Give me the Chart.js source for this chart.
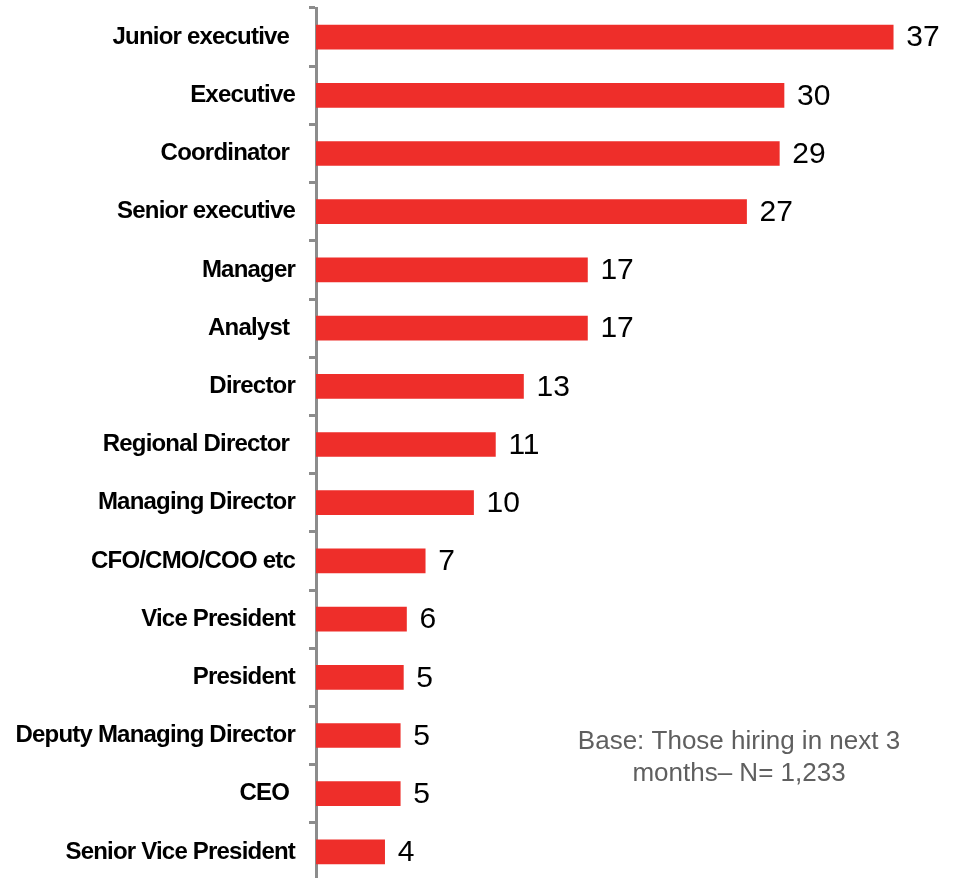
<!DOCTYPE html>
<html>
<head>
<meta charset="utf-8">
<script src="https://cdn.jsdelivr.net/npm/chart.js@4/dist/chart.umd.min.js"></script>
<style>
  html, body { margin: 0; padding: 0; background: #fff; overflow: hidden; }
  #wrap { width: 959px; height: 882px; }
</style>
</head>
<body>
<div id="wrap"><canvas id="hiringChart" width="959" height="882"></canvas></div>
<script>
// roles being hired (trailing spaces are in the original labels)
const roles = ['Junior executive ', 'Executive', 'Coordinator ', 'Senior executive', 'Manager', 'Analyst ',
  'Director', 'Regional Director ', 'Managing Director', 'CFO/CMO/COO etc', 'Vice President',
  'President', 'Deputy Managing Director', 'CEO ', 'Senior Vice President'];

// bar lengths (unrounded)
const barValues = [37, 30, 29.7, 27.6, 17.4, 17.4, 13.3, 11.5, 10.1, 7.0, 5.8, 5.6, 5.4, 5.4, 4.4];

// numbers printed at the end of the bars
const shares = [37, 30, 29, 27, 17, 17, 13, 11, 10, 7, 6, 5, 5, 5, 4];

// footnote lines
const baseNote = ['Base: Those hiring in next 3', 'months\u2013 N= 1,233'];

const barRed = '#EE2E2A';
const axisGrey = '#8c8c8c';

// condensed look of the category labels
const tightText = {
  id: 'tightText',
  beforeDraw(chart) {
    chart.ctx.letterSpacing = '-0.8px';
  }
};

// numbers at the end of each bar
const valueLabels = {
  id: 'valueLabels',
  afterDatasetsDraw(chart) {
    const ctx = chart.ctx;
    const meta = chart.getDatasetMeta(0);
    ctx.save();
    ctx.letterSpacing = '0px';
    ctx.font = '30px "Liberation Sans", Arial, sans-serif';
    ctx.fillStyle = '#000';
    ctx.textAlign = 'left';
    ctx.textBaseline = 'middle';
    meta.data.forEach((bar, i) => {
      ctx.fillText(shares[i], bar.x + 13, bar.y + 1);
    });
    ctx.restore();
  }
};

// base note, bottom right
const notePlugin = {
  id: 'notePlugin',
  afterDraw(chart) {
    const ctx = chart.ctx;
    ctx.save();
    ctx.letterSpacing = '0px';
    ctx.font = '26px "Liberation Sans", Arial, sans-serif';
    ctx.fillStyle = '#5f5f5f';
    ctx.textAlign = 'center';
    ctx.textBaseline = 'middle';
    baseNote.forEach((line, i) => {
      ctx.fillText(line, 739, 742 + i * 32);
    });
    ctx.restore();
  }
};

new Chart(document.getElementById('hiringChart'), {
  type: 'bar',
  data: {
    labels: roles,
    datasets: [{
      data: barValues,
      backgroundColor: barRed,
      borderWidth: 0,
      barThickness: 24
    }]
  },
  options: {
    indexAxis: 'y',
    responsive: false,
    devicePixelRatio: 1,
    animation: false,
    layout: {
      padding: { top: 8, right: 19, bottom: 1, left: 0 }
    },
    plugins: {
      legend: { display: false },
      tooltip: { enabled: false }
    },
    scales: {
      x: {
        display: false,
        min: 0,
        max: 40
      },
      y: {
        afterFit(scale) {
          scale.width = 316;
          scale.paddingTop = 0;
          scale.paddingBottom = 0;
        },
        grid: {
          offset: true,
          drawOnChartArea: false,
          tickLength: 7,
          color: axisGrey,
          lineWidth: 3
        },
        border: {
          display: true,
          color: axisGrey,
          width: 3
        },
        ticks: {
          autoSkip: false,
          padding: 14,
          color: '#000',
          font: { family: '"Liberation Sans", Arial, sans-serif', size: 24, weight: 'bold' }
        }
      }
    }
  },
  plugins: [tightText, valueLabels, notePlugin]
});
</script>
</body>
</html>
